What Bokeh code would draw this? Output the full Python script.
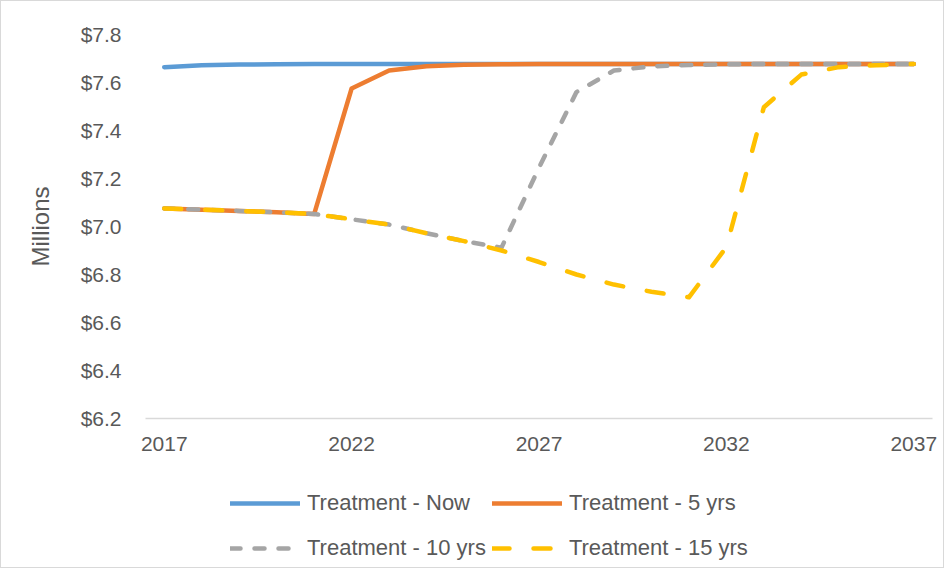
from bokeh.plotting import figure
from bokeh.layouts import column
from bokeh.models import Legend, LegendItem, FixedTicker, NumeralTickFormatter, Range1d
from bokeh.embed import file_html
from bokeh.resources import INLINE

years = list(range(2017, 2038))
now = [7.664, 7.672, 7.675, 7.676, 7.677, 7.677, 7.677, 7.677, 7.677, 7.677, 7.677,
       7.677, 7.677, 7.677, 7.677, 7.677, 7.677, 7.677, 7.677, 7.677, 7.677]
yrs5 = [7.075, 7.070, 7.065, 7.059, 7.052, 7.575, 7.650, 7.668, 7.674, 7.676, 7.677,
        7.677, 7.677, 7.677, 7.677, 7.677, 7.677, 7.677, 7.677, 7.677, 7.677]
yrs10 = [7.075, 7.070, 7.065, 7.059, 7.052, 7.030, 7.008, 6.972, 6.939, 6.912, 7.245,
         7.560, 7.650, 7.667, 7.673, 7.676, 7.677, 7.677, 7.677, 7.677, 7.677]
yrs15 = [7.075, 7.070, 7.065, 7.059, 7.052, 7.030, 7.008, 6.972, 6.939, 6.900, 6.852,
         6.800, 6.758, 6.728, 6.705, 6.914, 7.497, 7.633, 7.664, 7.672, 7.677]
x_ticks = [2017, 2022, 2027, 2032, 2037]
y_ticks = [6.2, 6.4, 6.6, 6.8, 7.0, 7.2, 7.4, 7.6, 7.8]
labels = ["Treatment - Now", "Treatment - 5 yrs", "Treatment - 10 yrs", "Treatment - 15 yrs"]
colors = ["#5B9BD5", "#ED7D31", "#A5A5A5", "#FFC000"]
dashes = ["solid", "solid", "10 14", "17 24"]
series = [now, yrs5, yrs10, yrs15]

FONT = "Liberation Sans"
TXT = "#595959"

# main chart
p = figure(width=942, height=458, output_backend="svg", toolbar_location=None,
           x_range=Range1d(2016.5, 2037.5), y_range=Range1d(6.2, 7.8),
           min_border_left=144, min_border_right=11, min_border_top=33, min_border_bottom=41)
p.outline_line_color = None
p.xgrid.visible = False
p.ygrid.visible = False

for vals, c, d in zip(series, colors, dashes):
    p.line(years, vals, line_color=c, line_width=4.5, line_cap="round", line_join="round",
           line_dash=d)

p.xaxis.ticker = FixedTicker(ticks=x_ticks)
p.yaxis.ticker = FixedTicker(ticks=y_ticks)
p.yaxis.formatter = NumeralTickFormatter(format="$0.0")
p.yaxis.axis_label = "Millions"
p.yaxis.axis_label_text_font = FONT
p.yaxis.axis_label_text_font_size = "24px"
p.yaxis.axis_label_text_font_style = "normal"
p.yaxis.axis_label_text_color = TXT
p.yaxis.axis_label_standoff = 24
for ax in (p.xaxis, p.yaxis):
    ax.major_label_text_font = FONT
    ax.major_label_text_font_size = "21px"
    ax.major_label_text_color = TXT
    ax.major_tick_line_color = None
    ax.minor_tick_line_color = None
p.yaxis.axis_line_color = None
p.yaxis.major_label_standoff = 18
p.xaxis.axis_line_color = "#d9d9d9"
p.xaxis.axis_line_width = 1.5
p.xaxis.major_label_standoff = 12

# legend strip: same series and styles, ranges chosen so only the legend shows
q = figure(width=942, height=108, output_backend="svg", toolbar_location=None,
           x_axis_location=None, y_axis_location=None,
           x_range=Range1d(0, 1), y_range=Range1d(0, 1),
           min_border_left=0, min_border_right=0, min_border_top=0, min_border_bottom=0)
q.outline_line_color = None
q.xgrid.visible = False
q.ygrid.visible = False
proxies = [q.line(years, vals, line_color=c, line_width=4.5, line_cap="round", line_dash=d)
           for vals, c, d in zip(series, colors, dashes)]


def make_legend(idx, vy, spacing):
    return Legend(items=[LegendItem(label=labels[i], renderers=[proxies[i]]) for i in idx],
                  orientation="horizontal", location=(85, vy),
                  glyph_width=70, glyph_height=24, label_height=24, label_standoff=7,
                  spacing=spacing, padding=0, margin=0,
                  border_line_color=None, background_fill_alpha=0,
                  label_text_font=FONT, label_text_font_size="22px", label_text_color=TXT)


q.add_layout(make_legend([0, 1], 51, 22), "center")
q.add_layout(make_legend([2, 3], 6, 6), "center")

layout = column(p, q, spacing=0, styles={"border": "1px solid #d9d9d9"})

open("out.html", "w").write(file_html(layout, INLINE))
